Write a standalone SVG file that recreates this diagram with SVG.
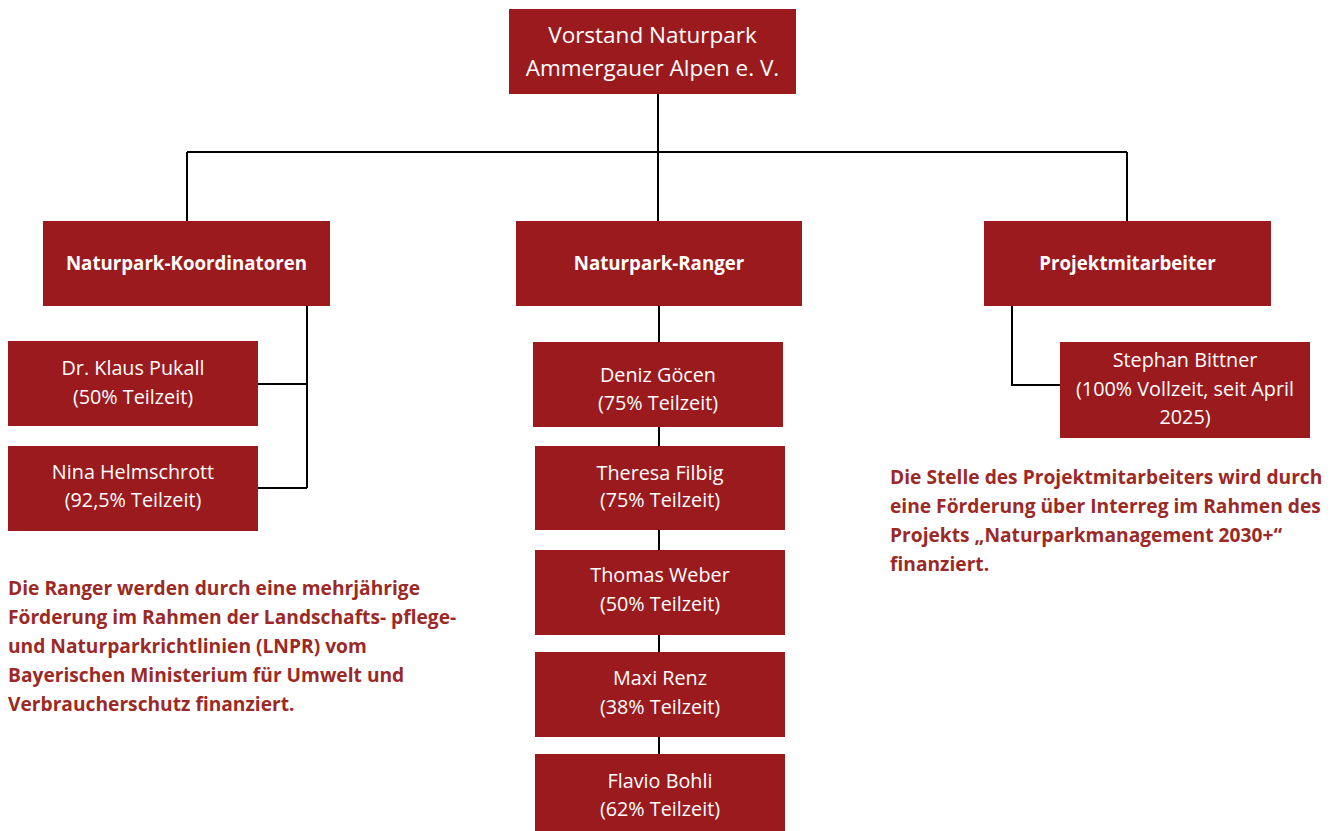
<svg xmlns="http://www.w3.org/2000/svg" width="1339" height="831" viewBox="0 0 1339 831">
<style>
.box{fill:#9b1a1e}
.t{font-family:"Open Sans","Liberation Sans",sans-serif;fill:#ffffff;text-anchor:middle}
.big{font-size:22.5px}
.hd{font-size:18.7px;font-weight:bold}
.pp{font-size:19.8px}
.note{font-family:"Open Sans","Liberation Sans",sans-serif;font-size:19.2px;font-weight:bold;fill:#9b2a27}
.ln{fill:none;stroke:#000;stroke-width:2}
</style>
<rect width="1339" height="831" fill="#fff"/>
<g id="connectors">
<path class="ln" d="M658 94V221M187 152H1127M187 152V221M1127 152V221"/>
<path class="ln" d="M307 306V488M258 384H307M258 488H307"/>
<path class="ln" d="M659 306V754"/>
<path class="ln" d="M1012 306V385H1060"/>
</g>
<g id="vorstand"><rect class="box" x="509" y="9" width="287" height="85"/>
<text class="t big" x="652.5" y="43">Vorstand Naturpark</text>
<text class="t big" x="652.5" y="76">Ammergauer Alpen e. V.</text></g>
<g id="koordinatoren"><rect class="box" x="43" y="221" width="287" height="85"/>
<text class="t hd" x="186.5" y="270">Naturpark-Koordinatoren</text></g>
<g id="ranger"><rect class="box" x="516" y="221" width="286" height="85"/>
<text class="t hd" x="659" y="270">Naturpark-Ranger</text></g>
<g id="projekt"><rect class="box" x="984" y="221" width="287" height="85"/>
<text class="t hd" x="1127.5" y="270">Projektmitarbeiter</text></g>
<g id="pukall"><rect class="box" x="8" y="341" width="250" height="85"/>
<text class="t pp" x="133" y="375">Dr. Klaus Pukall</text>
<text class="t pp" x="133" y="404">(50% Teilzeit)</text></g>
<g id="helmschrott"><rect class="box" x="8" y="446" width="250" height="85"/>
<text class="t pp" x="133" y="479">Nina Helmschrott</text>
<text class="t pp" x="133" y="507">(92,5% Teilzeit)</text></g>
<g id="goecen"><rect class="box" x="533" y="342" width="250" height="85"/>
<text class="t pp" x="658" y="382">Deniz Göcen</text>
<text class="t pp" x="658" y="410">(75% Teilzeit)</text></g>
<g id="filbig"><rect class="box" x="535" y="446" width="250" height="84"/>
<text class="t pp" x="660" y="480">Theresa Filbig</text>
<text class="t pp" x="660" y="507">(75% Teilzeit)</text></g>
<g id="weber"><rect class="box" x="535" y="550" width="250" height="85"/>
<text class="t pp" x="660" y="582">Thomas Weber</text>
<text class="t pp" x="660" y="611">(50% Teilzeit)</text></g>
<g id="renz"><rect class="box" x="535" y="652" width="250" height="85"/>
<text class="t pp" x="660" y="685">Maxi Renz</text>
<text class="t pp" x="660" y="714">(38% Teilzeit)</text></g>
<g id="bohli"><rect class="box" x="535" y="754" width="250" height="80"/>
<text class="t pp" x="660" y="788">Flavio Bohli</text>
<text class="t pp" x="660" y="816">(62% Teilzeit)</text></g>
<g id="bittner"><rect class="box" x="1060" y="342" width="250" height="96"/>
<text class="t pp" x="1185" y="367">Stephan Bittner</text>
<text class="t pp" x="1185" y="396">(100% Vollzeit, seit April</text>
<text class="t pp" x="1185" y="424">2025)</text></g>
<g id="note-left">
<text class="note" x="8" y="595">Die Ranger werden durch eine mehrjährige</text>
<text class="note" x="8" y="624">Förderung im Rahmen der Landschafts- pflege-</text>
<text class="note" x="8" y="653">und Naturparkrichtlinien (LNPR) vom</text>
<text class="note" x="8" y="682">Bayerischen Ministerium für Umwelt und</text>
<text class="note" x="8" y="711">Verbraucherschutz finanziert.</text>
</g>
<g id="note-right">
<text class="note" x="890" y="484">Die Stelle des Projektmitarbeiters wird durch</text>
<text class="note" x="890" y="513">eine Förderung über Interreg im Rahmen des</text>
<text class="note" x="890" y="542">Projekts „Naturparkmanagement 2030+“</text>
<text class="note" x="890" y="571">finanziert.</text>
</g>
</svg>
